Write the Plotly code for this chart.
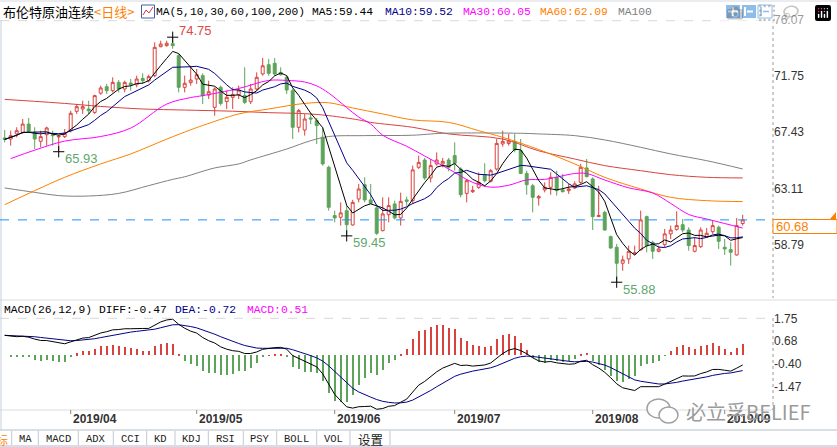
import pandas as pd
import plotly.graph_objects as go

# ---------------- data ----------------
opens = [66.99,66.91,67.30,67.42,68.06,67.42,66.73,67.24,67.24,67.07,
 67.09,67.55,69.04,69.22,69.22,68.96,70.44,70.94,70.63,71.27,
 70.76,71.22,71.09,71.58,71.40,71.79,74.02,74.10,74.25,73.33,
 70.89,71.25,71.53,71.79,70.30,69.35,70.89,69.79,70.12,70.32,
 70.25,69.78,70.76,71.92,72.63,72.74,72.04,71.66,70.63,67.81,
 67.60,68.53,68.32,67.04,64.73,61.01,60.88,61.39,60.29,62.29,
 63.39,62.22,61.60,59.85,61.08,61.91,60.83,62.22,62.16,64.73,
 65.29,63.91,64.99,64.99,65.29,65.63,64.60,62.72,62.85,63.19,
 64.16,63.65,64.60,66.53,66.57,66.73,66.01,64.26,63.31,62.37,
 62.99,63.19,63.96,62.99,62.93,63.14,63.57,64.68,63.83,60.93,
 61.26,59.39,58.57,57.34,57.67,58.06,58.37,60.93,58.95,58.26,
 58.77,59.60,59.95,60.31,59.90,58.26,58.62,59.39,59.77,60.11,
 58.57,58.39,57.98,60.40]
highs = [67.60,67.55,67.81,68.45,68.53,67.81,67.55,67.86,67.55,67.24,
 67.68,69.09,69.60,69.86,69.86,70.32,71.02,71.15,71.66,71.45,
 71.40,71.53,71.79,71.97,71.86,74.35,74.48,74.48,74.75,73.46,
 71.79,72.55,72.30,71.97,71.40,70.89,71.02,70.63,70.89,71.02,
 72.43,71.15,72.04,73.15,73.07,73.15,72.43,71.79,70.76,69.22,
 68.84,68.89,68.53,67.81,64.86,61.39,62.03,61.78,62.22,63.45,
 63.96,63.45,61.78,62.42,62.42,62.16,62.78,62.47,64.86,65.63,
 65.45,65.37,65.88,65.45,65.45,66.65,64.73,63.83,63.30,64.34,
 65.04,64.60,66.91,67.55,67.30,67.30,66.91,64.47,63.45,62.60,
 63.57,64.34,64.47,64.21,63.45,63.65,64.99,65.37,63.96,63.31,
 61.39,59.47,58.83,57.93,58.70,58.70,61.39,61.01,59.08,58.70,
 59.98,60.24,61.34,60.75,60.11,59.34,60.11,60.06,60.62,60.24,
 59.21,58.95,60.83,61.08]
lows = [66.65,66.40,67.04,67.30,67.42,66.14,66.27,66.40,66.40,65.93,
 66.99,67.42,68.84,68.84,68.84,68.84,70.32,70.38,70.50,70.50,
 70.50,70.63,70.89,71.15,71.27,71.66,73.97,74.02,73.86,70.50,
 70.50,71.02,71.15,69.60,69.99,68.71,69.48,69.22,69.22,69.99,
 69.60,69.60,70.63,71.79,71.79,71.79,71.79,70.38,66.91,67.42,
 67.17,68.06,66.53,64.86,61.39,60.49,60.24,59.45,60.24,62.03,
 62.03,61.90,59.52,59.80,60.49,60.70,60.24,61.78,61.91,64.60,
 63.76,63.57,64.86,64.73,64.42,64.47,62.42,62.03,62.75,63.06,
 63.57,63.57,64.47,66.32,66.40,65.88,64.21,62.62,61.26,61.78,
 62.80,62.62,62.55,62.78,62.68,63.06,63.45,63.96,59.90,60.90,
 59.85,58.44,55.88,56.77,57.29,58.00,58.31,58.18,57.67,58.18,
 58.57,59.21,59.85,59.72,58.31,58.18,58.52,59.34,59.60,58.44,
 57.98,57.16,57.93,60.24]
closes = [66.88,67.17,67.55,68.06,67.50,66.91,67.09,67.76,67.17,67.11,
 67.35,68.89,69.40,69.40,69.09,70.25,70.84,70.63,71.27,70.76,
 71.27,71.09,71.53,71.40,71.71,73.97,74.22,74.28,74.10,70.89,
 71.20,71.45,71.86,70.25,70.55,70.76,69.65,70.12,70.32,70.68,
 69.73,70.76,71.66,72.55,71.97,71.92,71.86,70.68,67.81,69.09,
 68.45,68.45,67.94,64.99,61.65,60.83,61.22,60.31,62.03,63.06,
 62.22,61.96,59.65,61.14,61.78,60.83,62.11,62.11,64.53,65.11,
 63.91,64.86,65.29,65.19,64.73,65.04,62.62,63.70,62.95,63.57,
 63.70,64.47,66.57,66.73,66.75,66.07,64.26,63.39,62.42,62.47,
 63.19,63.96,62.93,62.86,63.06,63.45,64.73,64.01,60.93,61.01,
 59.90,58.52,57.34,57.60,58.26,58.14,60.68,58.70,58.26,58.44,
 59.60,59.90,60.24,59.90,58.70,58.70,59.90,59.65,60.24,59.03,
 58.44,58.18,60.24,60.68]

ma30_idx = [1,5,10,16,21,27,31,33,39,44,47,50,52,54,57,59,61,63,67,70,74,78,81,84,87,90,95,97,100,104,108,111,114,117,120,123]
ma30_val = [65.40,66.05,66.75,67.10,67.75,69.60,70.10,70.25,70.80,71.42,71.42,71.30,71.00,70.45,69.33,68.60,68.07,67.20,66.35,65.60,64.60,63.57,63.20,63.35,63.76,63.80,64.25,64.25,63.75,63.15,62.75,61.95,61.10,60.75,60.40,60.05]
ma60_idx = [0,5,10,16,21,27,31,33,39,44,50,54,58,63,68,74,79,83,89,95,100,106,111,117,123]
ma60_val = [61.85,62.93,63.96,64.99,65.76,66.90,67.62,67.95,68.84,69.22,69.65,69.70,69.30,68.84,68.38,68.19,67.55,67.04,66.10,64.99,63.96,63.06,62.42,62.16,62.09]
ma100_idx = [0,5,9,14,19,24,28,30,35,39,41,47,51,54,60,68,73,86,89,95,100,106,111,117,123]
ma100_val = [63.14,62.80,62.55,62.52,62.72,63.32,63.80,64.00,64.68,64.99,65.30,66.14,66.78,67.10,67.17,67.20,67.35,67.35,67.30,67.17,66.84,66.27,65.76,65.24,64.60]
ma200_idx = [0,5,10,16,23,30,38,44,50,54,59,61,68,74,83,89,95,100,106,111,117,123]
ma200_val = [69.96,69.81,69.65,69.42,69.22,69.14,69.05,68.94,68.86,68.71,68.38,68.19,67.81,67.30,66.91,66.00,65.37,64.86,64.47,64.16,63.96,63.91]

price_ticks = [76.07, 71.75, 67.43, 63.11, 58.79]
macd_ticks = [1.75, 0.68, -0.40, -1.47]
month_idx = [11, 32, 55, 75, 98, 120]
month_labels = ["2019/04", "2019/05", "2019/06", "2019/07", "2019/08", "2019/09"]
extreme_idx = [28, 9, 57, 102]
extreme_val = [74.75, 65.93, 59.45, 55.88]
diff_start, dea_start = 0.95, 0.95
last_price = 60.68
tab_labels = ["MA", "MACD", "ADX", "CCI", "KD", "KDJ", "RSI", "PSY", "BOLL", "VOL", "设置"]

# ---------------- derived ----------------
W, H = 837, 447
def px(x): return x / W
def py(y): return 1 - y / H

UP = "#D8433D"; DN = "#5DA45A"
NAVY = "#000088"; MAG = "#FF00FF"; ORG = "#FF8000"; GRAY = "#808080"
n = len(closes); idx = list(range(n))
cl = pd.Series(closes)
ma5 = cl.rolling(5, min_periods=1).mean()
ma10 = cl.rolling(10, min_periods=1).mean()

diff, dea = [], []
e12 = closes[0]; e26 = closes[0] - diff_start; d = diff_start; de = dea_start
for k, c in enumerate(closes):
    if k > 0:
        e12 = e12 * 11 / 13 + c * 2 / 13
        e26 = e26 * 25 / 27 + c * 2 / 27
        d = e12 - e26
        de = de * 8 / 10 + d * 2 / 10
    diff.append(d); dea.append(de)
hist = [2 * (a - b) for a, b in zip(diff, dea)]

fig = go.Figure()
fig.add_trace(go.Candlestick(x=idx, open=opens, high=highs, low=lows, close=closes,
    increasing=dict(line=dict(color=UP, width=1), fillcolor="white"),
    decreasing=dict(line=dict(color=DN, width=1), fillcolor=DN),
    whiskerwidth=0, hoverinfo="skip", xaxis="x", yaxis="y"))
for xs, ys, col, sh in [(ma200_idx, ma200_val, UP, "spline"), (ma100_idx, ma100_val, GRAY, "spline"),
                        (ma60_idx, ma60_val, ORG, "spline"), (ma30_idx, ma30_val, MAG, "spline"),
                        (idx, list(ma10), NAVY, "linear"), (idx, list(ma5), "black", "linear")]:
    fig.add_trace(go.Scatter(x=xs, y=ys, mode="lines", line=dict(color=col, width=1, shape=sh),
                             hoverinfo="skip", xaxis="x", yaxis="y"))
fig.add_trace(go.Scatter(x=extreme_idx, y=extreme_val, mode="markers",
    marker=dict(symbol="cross-thin", size=8, color="black", line=dict(width=1, color="black")),
    hoverinfo="skip", xaxis="x", yaxis="y"))

fig.add_trace(go.Bar(x=idx, y=hist, width=0.14,
    marker=dict(color=[UP if v >= 0 else DN for v in hist], line=dict(width=0)),
    hoverinfo="skip", xaxis="x2", yaxis="y2"))
fig.add_trace(go.Scatter(x=idx, y=dea, mode="lines", line=dict(color=NAVY, width=1), hoverinfo="skip", xaxis="x2", yaxis="y2"))
fig.add_trace(go.Scatter(x=idx, y=diff, mode="lines", line=dict(color="black", width=1), hoverinfo="skip", xaxis="x2", yaxis="y2"))

XR = [-0.45, 128.05]
TF = dict(family="Liberation Sans, Arial", size=12, color="#333333")
axcommon = dict(showgrid=False, zeroline=False, showline=False, ticks="", fixedrange=True, automargin=False)
fig.update_layout(
    width=W, height=H, margin=dict(l=0, r=0, t=0, b=0), template="none",
    paper_bgcolor="white", plot_bgcolor="rgba(0,0,0,0)", showlegend=False, bargap=0,
    xaxis=dict(domain=[px(2), px(773)], range=XR, showticklabels=False, rangeslider=dict(visible=False), anchor="y", **axcommon),
    yaxis=dict(domain=[py(298), py(20)], range=[54.664, 76.075], side="right", anchor="x",
               tickvals=price_ticks, ticktext=[f"{v:.2f}" for v in price_ticks], tickfont=TF, **axcommon),
    xaxis2=dict(domain=[px(2), px(773)], range=XR, showticklabels=False, anchor="y2", **axcommon),
    yaxis2=dict(domain=[py(410), py(318.3)], range=[-2.57, 1.752], side="right", anchor="x2",
                tickvals=macd_ticks, ticktext=[f"{v:.2f}" for v in macd_ticks], tickfont=TF, **axcommon),
)

shapes = []
def hline(y, x0, x1, color, dash="solid", w=1):
    shapes.append(dict(type="line", xref="paper", yref="paper", x0=px(x0), x1=px(x1), y0=py(y), y1=py(y),
                       line=dict(color=color, width=w, dash=dash), layer="below"))
def vline(x, y0, y1, color, dash="solid", w=1):
    shapes.append(dict(type="line", xref="paper", yref="paper", x0=px(x), x1=px(x), y0=py(y0), y1=py(y1),
                       line=dict(color=color, width=w, dash=dash), layer="below"))
def rect(x0, y0, x1, y1, fill, line=None, layer="above"):
    shapes.append(dict(type="rect", xref="paper", yref="paper", x0=px(x0), x1=px(x1), y0=py(y1), y1=py(y0),
                       fillcolor=fill, line=dict(color=line or fill, width=1 if line else 0), layer=layer))

hline(1, 0, 837, "#d4d8de")
hline(20.7, 0, 773, "#d8d8d8", "dash")
hline(300, 0, 837, "#dcdcdc")
hline(318.3, 0, 773, "#d8d8d8", "dash")
hline(410, 0, 773, "#dcdcdc")
vline(773, 20, 298, "#9a9a9a", "dot")
vline(773, 318, 410, "#9a9a9a", "dot")
vline(1, 20, 430, "#c6d0dc")
shapes.append(dict(type="line", xref="paper", yref="y", x0=0, x1=px(773), y0=last_price, y1=last_price,
                   line=dict(color="#1E90FF", width=1, dash="dash")))
rect(773, 219.5, 837, 233.5, "white", ORG)
shapes.append(dict(type="path", xref="paper", yref="paper",
                   path=f"M {px(830)} {py(219)} L {px(836)} {py(219)} L {px(836)} {py(212)} Z",
                   fillcolor=ORG, line=dict(width=0)))
for m in month_idx:
    shapes.append(dict(type="line", xref="x2", yref="paper", x0=m, x1=m, y0=py(410), y1=py(414),
                       line=dict(color="#888888", width=1)))
rect(0, 430, 837, 445, "white", None, "below")
hline(430, 0, 837, "#b4bec9")
rect(0, 445, 837, 447, "#d3deea", None)
tab_edges = [11.7, 38.3, 78.3, 113.3, 146.7, 175, 208.3, 243.3, 276.7, 316.7, 350, 390]
for e in tab_edges:
    vline(e, 431, 445, "#c0c8d2")
rect(141.5, 5, 154.5, 18, "white", "#4060a8")
shapes.append(dict(type="path", xref="paper", yref="paper",
                   path=f"M {px(143)} {py(15)} L {px(146)} {py(10)} L {px(149)} {py(13)} L {px(153)} {py(7)}",
                   line=dict(color="#e03050", width=1)))
rect(726, 5, 740, 18, "#1F7BD2")
rect(742, 5, 756, 18, "#1F7BD2")
rect(758, 5, 772, 18, "white", "#1F7BD2")
for (a, b, c2, d2, col) in [(728, 11.5, 738, 11.5, "white"), (733, 7, 733, 16, "white"),
                            (745, 7, 745, 16, "white"), (747, 11.5, 753, 11.5, "white"),
                            (761, 7, 761, 16, "#1F7BD2"), (763, 11.5, 769, 11.5, "#1F7BD2")]:
    shapes.append(dict(type="line", xref="paper", yref="paper", x0=px(a), x1=px(c2), y0=py(b), y1=py(d2),
                       line=dict(color=col, width=2 if col == "white" else 1.5)))
shapes.append(dict(type="circle", xref="paper", yref="paper", x0=px(647), x1=px(670), y0=py(418), y1=py(399),
                   line=dict(color="#a0a0a0", width=1.5), fillcolor="white"))
shapes.append(dict(type="circle", xref="paper", yref="paper", x0=px(659), x1=px(678), y0=py(423), y1=py(407),
                   line=dict(color="#a0a0a0", width=1.5), fillcolor="white"))

ann = []
MONO = "Liberation Mono, DejaVu Sans Mono, monospace"
CJK = "Noto Sans CJK SC"
def txt(x, y, s, color, size=11.3, family=MONO, xanchor="left"):
    ann.append(dict(xref="paper", yref="paper", x=px(x), y=py(y), text=s, showarrow=False,
                    xanchor=xanchor, yanchor="middle", font=dict(family=family, size=size, color=color), borderpad=0))

txt(2, 12, "布伦特原油连续", "#000000", 13, CJK)
txt(93, 12, "&lt;日线&gt;", ORG, 13, CJK)
txt(155, 12.5, "MA(5,10,30,60,100,200) MA5:59.44", "#000000")
txt(384, 12.5, "MA10:59.52", NAVY)
txt(462, 12.5, "MA30:60.05", MAG)
txt(539, 12.5, "MA60:62.09", ORG)
txt(617, 12.5, "MA100", GRAY)
txt(3, 309.5, "MACD(26,12,9) DIFF:-0.47", "#000000")
txt(174, 309.5, "DEA:-0.72", NAVY)
txt(246, 309.5, "MACD:0.51", MAG)
txt(775, 226.5, f"{last_price:.2f}", ORG, 13, "Liberation Sans, Arial")

for k, (i, v) in enumerate(zip(extreme_idx, extreme_val)):
    up = k == 0
    ann.append(dict(xref="x", yref="y", x=i, y=v, text=f"{v:.2f}", showarrow=False, xanchor="left",
                    yanchor="middle", xshift=5, yshift=7 if up else -7, borderpad=0,
                    font=dict(family="Liberation Sans, Arial", size=13, color="#E04848" if up else "#5FA86E")))
for m, lab in zip(month_idx, month_labels):
    ann.append(dict(xref="x2", yref="paper", x=m, y=py(419), text=f"<b>{lab}</b>", showarrow=False,
                    xanchor="left", yanchor="middle", xshift=1.5, borderpad=0,
                    font=dict(family="Liberation Sans, Arial", size=12, color="#333333")))
txt(9, 439, "标", ORG, 12, CJK, "right")
for k, lab in enumerate(tab_labels):
    cx = (tab_edges[k] + tab_edges[k + 1]) / 2
    txt(cx, 439, lab, "#222222", 10.5 if lab != "设置" else 12.5, MONO if lab != "设置" else CJK, "center")
txt(685, 411, "必立孚BELIEF", "#9a9a9a", 20, CJK)

fig.update_layout(shapes=shapes, annotations=ann)
fig.write_html("out.html", post_script="document.body.style.margin='0';document.body.style.padding='0';document.body.style.overflow='hidden';")
